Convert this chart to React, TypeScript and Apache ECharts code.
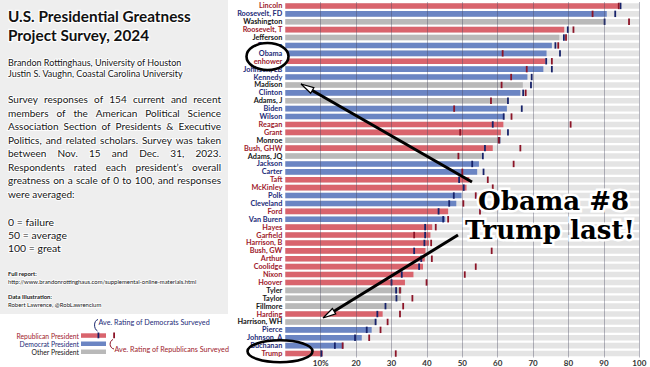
import React, { useEffect, useRef } from 'react';
import * as echarts from 'echarts';

const presidents = ['Lincoln','Roosevelt, FD','Washington','Roosevelt, T','Jefferson','Truman','Obama','Eisenhower','Johnson, LB','Kennedy','Madison','Clinton','Adams, J','Biden','Wilson','Reagan','Grant','Monroe','Bush, GHW','Adams, JQ','Jackson','Carter','Taft','McKinley','Polk','Cleveland','Ford','Van Buren','Hayes','Garfield','Harrison, B','Bush, GW','Arthur','Coolidge','Nixon','Hoover','Tyler','Taylor','Fillmore','Harding','Harrison, WH','Pierce','Johnson, A','Buchanan','Trump'];
const party = ['R','D','O','R','O','D','D','R','D','D','O','D','O','D','D','R','R','O','R','O','D','D','R','R','D','D','R','D','R','R','R','R','R','R','R','R','O','O','O','R','O','D','D','D','R'];
const overall = [94.0,90.8,90.1,78.8,77.4,75.3,73.8,73.5,72.9,68.4,67.1,66.4,62.8,62.6,61.8,61.6,60.9,60.3,58.6,55.5,54.7,54.2,52.0,51.2,49.8,48.3,46.0,45.2,41.5,41.0,40.6,39.6,39.4,38.9,36.2,33.8,32.9,32.7,30.0,27.5,25.8,24.4,21.6,16.4,10.6];
const demAvg = [94.7,93.2,90.2,79.8,78.7,76.3,77.6,73.7,75.3,69.6,69.4,67.2,62.9,66.8,61.7,58.6,62.9,60.5,56.4,55.8,52.8,56.0,49.1,50.4,47.6,46.3,43.3,44.6,39.5,39.5,39.3,36.4,38.4,37.8,32.9,30.0,31.3,31.4,28.3,26.0,25.5,23.0,19.7,14.0,10.2];
const repAvg = [94.2,86.8,97.1,81.4,79.3,77.1,61.4,75.3,68.2,63.8,61.1,67.9,58.1,47.7,63.9,80.6,49.4,60.3,66.4,48.9,64.5,50.0,57.2,58.6,53.8,50.3,55.0,46.0,42.5,36.4,41.2,58.3,41.4,53.8,50.7,39.9,32.4,35.9,33.3,32.4,28.9,26.9,23.7,16.2,31.2];
const xTicks = [10,20,30,40,50,60,70,80,90,100];

const titleLines = ['U.S. Presidential Greatness', 'Project Survey, 2024'];
const authorLines = ['Brandon Rottinghaus, University of Houston', 'Justin S. Vaughn, Coastal Carolina University'];
const paraLines = [
  'Survey responses of 154 current and recent',
  'members of the American Political Science',
  'Association Section of Presidents & Executive',
  'Politics, and related scholars. Survey was taken',
  'between Nov. 15 and Dec. 31, 2023.',
  'Respondents rated each president\u2019s overall',
  'greatness on a scale of 0 to 100, and responses',
];
const paraLast = 'were averaged:';
const scaleLines = ['0 = failure', '50 = average', '100 = great'];
// labels redrawn inside the Obama circle
const circledIdx = [6, 7];
const circledText = ['Obama', 'enhower'];

const barColor: Record<string, string> = { R: '#d9646d', D: '#6b85c3', O: '#b9b9b9' };
const labelColor: Record<string, string> = { R: '#9e1a2c', D: '#1d2b78', O: '#161616' };
const DEM_MARK = '#16226a';
const REP_MARK = '#8c1427';
const FONT = 'Lato';

const canvas = typeof document !== 'undefined' ? document.createElement('canvas') : null;
const ctx = canvas ? canvas.getContext('2d') : null;
function measure(text: string, size: number, weight = 'normal', family = FONT) {
  if (!ctx) return text.length * size * 0.5;
  ctx.font = `${weight} ${size}px ${family}`;
  return ctx.measureText(text).width;
}
function fit(text: string, width: number, weight = 'normal', family = FONT) {
  return (100 * width) / measure(text, 100, weight, family);
}

function txt(x: number, y: number, text: string, o: any = {}) {
  const align = o.align || 'left';
  const style: any = {
    text,
    fontFamily: o.family || FONT,
    fontSize: o.size,
    fontWeight: o.weight || 'normal',
    fill: o.color || '#151515',
    align, textAlign: align,
    verticalAlign: 'middle', textVerticalAlign: 'middle',
  };
  if (o.halo) {
    style.stroke = o.haloColor || 'rgba(255,255,255,0.95)';
    style.lineWidth = o.halo;
    style.strokeFirst = true;
  }
  return { type: 'text', x, y, z: o.z ?? 10, silent: true, style };
}

function arrow(x1: number, y1: number, tx: number, ty: number) {
  const dx = x1 - tx, dy = y1 - ty;
  const L = Math.hypot(dx, dy);
  const ux = dx / L, uy = dy / L;
  const nx = -uy, ny = ux;
  const hl = 13, hw = 3.2;
  const bx = tx + ux * hl, by = ty + uy * hl;
  return [
    { type: 'line', z: 100, silent: true, shape: { x1, y1, x2: bx - ux * 1, y2: by - uy * 1 }, style: { stroke: '#000', lineWidth: 3 } },
    { type: 'polygon', z: 101, silent: true, shape: { points: [[tx, ty], [bx + nx * hw, by + ny * hw], [bx - nx * hw, by - ny * hw]] }, style: { fill: '#fff', stroke: '#000', lineWidth: 1.2 } },
  ];
}

export default function App() {
  const ref = useRef<HTMLDivElement>(null);
  useEffect(() => {
    if (!ref.current) return;
    const chart = echarts.init(ref.current, null, { renderer: 'svg' });

    const lfs = (fit('Roosevelt, FD', 45, 'bold') + fit('Lincoln', 23.5, 'bold')) / 2;
    const g: any[] = [];

    // left panel
    g.push({ type: 'rect', z: 0, silent: true, shape: { x: 0, y: 0, width: 228, height: 314 }, style: { fill: '#eeeeee' } });
    const tfs = Math.min(15.3, fit(titleLines[0], 207, 'bold'));
    g.push(txt(8, 16, titleLines[0], { size: tfs, weight: 'bold', color: '#111', halo: 2.5 }));
    g.push(txt(8, 35, titleLines[1], { size: tfs, weight: 'bold', color: '#111', halo: 2.5 }));
    const afs = fit(authorLines[0], 174);
    g.push(txt(8, 62, authorLines[0], { size: afs, halo: 2 }));
    g.push(txt(8, 73, authorLines[1], { size: afs, halo: 2 }));

    const PX0 = 8, PX1 = 221, PW = PX1 - PX0;
    let pfs = 12;
    paraLines.forEach((l) => { pfs = Math.min(pfs, fit(l, PW - 6)); });
    paraLines.forEach((line, i) => {
      const y = 99 + i * 13.55;
      const words = line.split(' ');
      const ws = words.map((w) => measure(w, pfs));
      const sum = ws.reduce((a, b) => a + b, 0);
      const gap = (PW - sum) / (words.length - 1);
      let x = PX0;
      words.forEach((w, j) => {
        g.push(txt(x, y, w, { size: pfs, halo: 2 }));
        x += ws[j] + gap;
      });
    });
    g.push(txt(PX0, 99 + 7 * 13.55, paraLast, { size: pfs, halo: 2 }));

    const sfs = fit(scaleLines[1], 59);
    scaleLines.forEach((l, i) => g.push(txt(8, 221.5 + i * 13.3, l, { size: sfs, halo: 2 })));

    const ufs = fit('http://www.brandonrottinghaus.com/supplemental-online-materials.html', 189);
    g.push(txt(8, 273.5, 'Full report:', { size: ufs, weight: 'bold', halo: 1.5 }));
    g.push(txt(8, 281, 'http://www.brandonrottinghaus.com/supplemental-online-materials.html', { size: ufs, halo: 1.5 }));
    g.push(txt(8, 296.5, 'Data Illustration:', { size: ufs, weight: 'bold', halo: 1.5 }));
    g.push(txt(8, 304, 'Robert Lawrence, @RobLawrencium', { size: ufs, halo: 1.5 }));

    // legend
    const lgfs = Math.min(6.8, fit('Republican President', 71));
    g.push(txt(79, 335.5, 'Republican President', { size: lgfs, color: labelColor.R, align: 'right' }));
    g.push(txt(79, 343.7, 'Democrat President', { size: lgfs, color: labelColor.D, align: 'right' }));
    g.push(txt(79, 351.9, 'Other President', { size: lgfs, color: labelColor.O, align: 'right' }));
    g.push({ type: 'rect', z: 10, silent: true, shape: { x: 81, y: 333.3, width: 25, height: 4.5 }, style: { fill: barColor.R } });
    g.push({ type: 'rect', z: 10, silent: true, shape: { x: 81, y: 341.5, width: 25, height: 4.5 }, style: { fill: barColor.D } });
    g.push({ type: 'rect', z: 10, silent: true, shape: { x: 81, y: 349.5, width: 25, height: 4.5 }, style: { fill: barColor.O } });
    g.push({ type: 'rect', z: 11, silent: true, shape: { x: 97.5, y: 332.5, width: 1.8, height: 5.8 }, style: { fill: DEM_MARK } });
    g.push({ type: 'rect', z: 11, silent: true, shape: { x: 113.2, y: 332.5, width: 1.8, height: 5.8 }, style: { fill: REP_MARK } });
    const dfs = Math.min(7.2, fit('Ave. Rating of Democrats Surveyed', 118));
    g.push(txt(98.5, 322.3, 'Ave. Rating of Democrats Surveyed', { size: dfs, color: labelColor.D }));
    g.push(txt(114.5, 349.3, 'Ave. Rating of Republicans Surveyed', { size: dfs, color: labelColor.R }));
    g.push({ type: 'bezierCurve', z: 11, silent: true, shape: { x1: 98, y1: 319.5, x2: 97.5, y2: 331, cpx1: 93.5, cpy1: 320.5, cpx2: 93.5, cpy2: 329 }, style: { stroke: DEM_MARK, lineWidth: 1, fill: 'none' } });
    g.push({ type: 'bezierCurve', z: 11, silent: true, shape: { x1: 113, y1: 339.5, x2: 114, y2: 349, cpx1: 109, cpy1: 341, cpx2: 109, cpy2: 348 }, style: { stroke: REP_MARK, lineWidth: 1, fill: 'none' } });

    // annotations: ellipses (labels inside the Obama ellipse redrawn above it)
    g.push({ type: 'ellipse', z: 90, silent: true, shape: { cx: 267.5, cy: 56.5, rx: 21, ry: 13.5 }, style: { fill: '#fff', stroke: '#000', lineWidth: 2.6 } });
    g.push({ type: 'ellipse', z: 90, silent: true, shape: { cx: 280, cy: 351.3, rx: 32.5, ry: 11 }, style: { fill: 'none', stroke: '#000', lineWidth: 2.6 } });

    arrow(472, 182, 301, 84).forEach((e) => g.push(e));
    arrow(458, 235, 323, 318).forEach((e) => g.push(e));

    const bfs = fit('Trump last!', 170, 'bold', 'DejaVu Serif');
    g.push(txt(478, 201, 'Obama #8', { size: bfs, weight: 'bold', family: 'DejaVu Serif', color: '#000', halo: 5, haloColor: '#fff', z: 110 }));
    g.push(txt(465, 230, 'Trump last!', { size: bfs, weight: 'bold', family: 'DejaVu Serif', color: '#000', halo: 5, haloColor: '#fff', z: 110 }));

    const option: any = {
      animation: false,
      grid: { left: 285.3, right: 10.7, top: 2, bottom: 9.5 },
      xAxis: {
        type: 'value', min: 0, max: 100, interval: 10,
        axisLine: { show: false }, axisTick: { show: false }, splitLine: { show: false },
        axisLabel: {
          margin: 1.5, color: '#333', fontSize: 8, fontWeight: 'bold', fontFamily: FONT,
          formatter: (v: number) => (v === 0 ? '' : v === 10 ? '10%' : String(v)),
        },
      },
      yAxis: {
        type: 'category', inverse: true, data: presidents,
        axisLine: { show: false }, axisTick: { show: false },
        axisLabel: {
          margin: 3, interval: 0,
          formatter: (v: string, i: number) => (circledIdx.indexOf(i) >= 0 ? '' : `{${party[i]}|${v}}`),
          rich: {
            R: { color: labelColor.R, fontWeight: 'bold', fontSize: lfs, fontFamily: FONT },
            D: { color: labelColor.D, fontWeight: 'bold', fontSize: lfs, fontFamily: FONT },
            O: { color: labelColor.O, fontWeight: 'bold', fontSize: lfs, fontFamily: FONT },
          },
        },
      },
      series: [
        {
          type: 'bar', silent: true, barWidth: 5.6, barGap: '-100%', z: 1,
          data: presidents.map(() => 100), itemStyle: { color: '#e4e4e4' },
        },
        {
          type: 'bar', silent: true, barWidth: 5.6, barGap: '-100%', z: 2,
          data: overall.map((v, i) => ({ value: v, itemStyle: { color: barColor[party[i]] } })),
        },
        {
          type: 'line', silent: true, z: 3, data: [],
          markLine: {
            silent: true, symbol: ['none', 'none'], label: { show: false },
            lineStyle: { color: 'rgba(70,70,95,0.38)', width: 1, type: 'solid' },
            data: xTicks.map((v) => ({ xAxis: v })),
          },
        },
        {
          type: 'scatter', silent: true, z: 4, symbol: 'rect', symbolSize: [1.8, 6.4],
          data: demAvg.map((v, i) => [v, i]), itemStyle: { color: DEM_MARK, opacity: 1 },
        },
        {
          type: 'scatter', silent: true, z: 5, symbol: 'rect', symbolSize: [1.8, 6.4],
          data: repAvg.map((v, i) => [v, i]), itemStyle: { color: REP_MARK, opacity: 1 },
        },
      ],
      graphic: { elements: g },
    };
    chart.setOption(option);

    // redraw the circled labels above the ellipse, at the axis' own row positions
    const extra: any[] = circledIdx.map((idx, k) => {
      const py = chart.convertToPixel({ yAxisIndex: 0 }, presidents[idx]) as number;
      return txt(282.3, py, circledText[k], { size: lfs, weight: 'bold', color: labelColor[party[idx]], align: 'right', z: 95 });
    });
    chart.setOption({ graphic: { elements: g.concat(extra) } }, { replaceMerge: ['graphic'] });
    return () => chart.dispose();
  }, []);
  return <div ref={ref} style={{ position: 'absolute', left: 0, top: 0, width: 650, height: 367, background: '#fff' }} />;
}
